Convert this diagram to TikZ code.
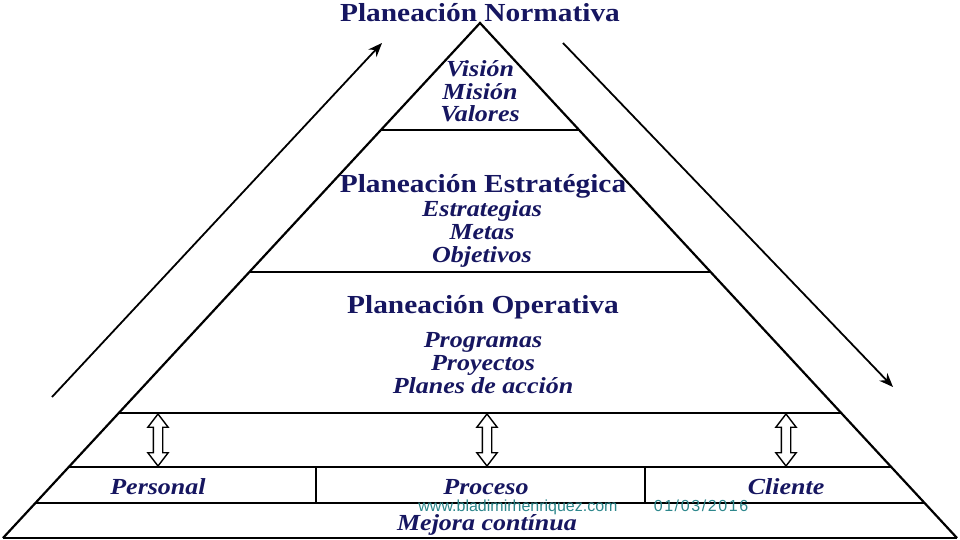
\documentclass[tikz,border=0pt]{standalone}
\usepackage{fontspec}
\setmainfont{Liberation Serif}[FakeStretch=1.13]
\newfontfamily\webfont{Liberation Sans}
\newfontfamily\datefont{Liberation Sans}[LetterSpace=10]
\usetikzlibrary{arrows.meta,shapes.arrows}
\definecolor{navy}{RGB}{22,22,96}
\definecolor{webteal}{RGB}{45,135,140}

\begin{document}
\begin{tikzpicture}[x=1pt,y=-1pt,
    edge/.style={line width=2.2pt},
    longarrow/.style={line width=1.8pt,-{Stealth[length=14pt,width=11pt]}},
    head/.style={navy,anchor=base,inner sep=0pt,font=\bfseries\fontsize{26}{26}\selectfont},
    item/.style={navy,anchor=base,inner sep=0pt,font=\bfseries\itshape\fontsize{23}{23}\selectfont},
    updown/.style={double arrow,draw,line width=1.4pt,fill=white,rotate=90,
        minimum height=52pt,inner sep=4pt,double arrow head extend=5.5pt,double arrow tip angle=75},
    web/.style={webteal,anchor=base,inner sep=0pt,font=\webfont\fontsize{16}{16}\selectfont}]
    \useasboundingbox (0,0) rectangle (960,540);

    \coordinate (A) at (480,23);
    \coordinate (BL) at (3,538);
    \coordinate (BR) at (957,538);

    \coordinate (L1) at (381,130);
    \coordinate (R1) at (579,130);
    \coordinate (L2) at (249.5,272);
    \coordinate (R2) at (710.5,272);
    \coordinate (L3) at (119,413);
    \coordinate (R3) at (841,413);
    \coordinate (L4) at (69,467);
    \coordinate (R4) at (891,467);
    \coordinate (L5) at (35.5,503);
    \coordinate (R5) at (924.5,503);

    \coordinate (D1) at (316,467);
    \coordinate (D1b) at (316,503);
    \coordinate (D2) at (645,467);
    \coordinate (D2b) at (645,503);

    \coordinate (UpFrom) at (52,397);
    \coordinate (UpTo) at (382,43);
    \coordinate (DownFrom) at (563,43);
    \coordinate (DownTo) at (893,387);

    % pyramid
    \draw[edge] (BL) -- (A) -- (BR);
    \draw[edge] (BL) -- (BR);
    \draw[edge] (L1) -- (R1);
    \draw[edge] (L2) -- (R2);
    \draw[edge] (L3) -- (R3);
    \draw[edge] (L4) -- (R4);
    \draw[edge] (L5) -- (R5);
    \draw[edge] (D1) -- (D1b);
    \draw[edge] (D2) -- (D2b);

    % side arrows
    \draw[longarrow] (UpFrom) -- (UpTo);
    \draw[longarrow] (DownFrom) -- (DownTo);

    % links to the bottom row
    \node[updown] (linkPersonal) at (158,440) {};
    \node[updown] (linkProceso) at (487,440) {};
    \node[updown] (linkCliente) at (786,440) {};

    \node[head] (normativa) at (480,22) {Planeación Normativa};
    \node[item] (vision) at (480,77) {Visión};
    \node[item] (mision) at (480,100) {Misión};
    \node[item] (valores) at (480,122) {Valores};

    \node[head] (estrategica) at (483,192) {Planeación Estratégica};
    \node[item] (estrategias) at (482,216) {Estrategias};
    \node[item] (metas) at (482,239) {Metas};
    \node[item] (objetivos) at (482,262) {Objetivos};

    \node[head] (operativa) at (483,313) {Planeación Operativa};
    \node[item] (programas) at (483,347) {Programas};
    \node[item] (proyectos) at (483,370) {Proyectos};
    \node[item] (planes) at (483,393) {Planes de acción};

    \node[item] (personal) at (158,494) {Personal};
    \node[item] (proceso) at (486,494) {Proceso};
    \node[item] (cliente) at (786,494) {Cliente};
    \node[item] (mejora) at (487,530) {Mejora contínua};

    \node[web] (site) at (518,511) {www.bladimirhenriquez.com};
    \node[web,font=\datefont\fontsize{16}{16}\selectfont] (date) at (701,511) {01/03/2016};
\end{tikzpicture}
\end{document}
